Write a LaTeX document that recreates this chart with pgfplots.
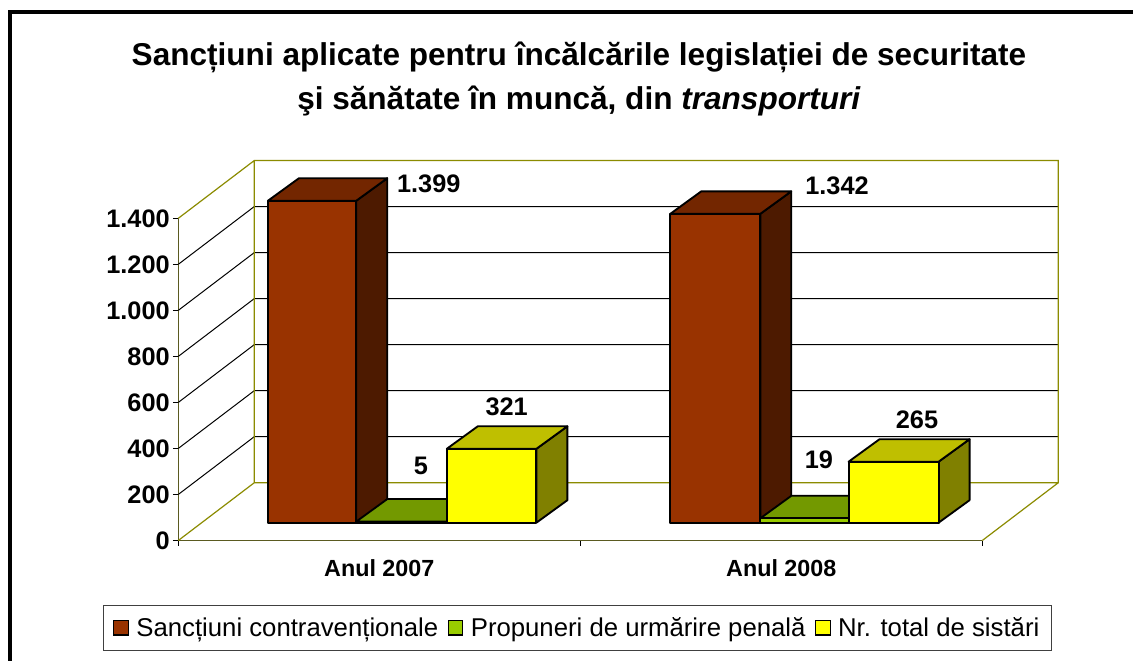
\documentclass[border=0pt]{standalone}
\usepackage{pgfplots}
\pgfplotsset{compat=1.18}
\usepackage{fontspec}
\setmainfont{Liberation Sans}

\definecolor{wall}{HTML}{8B8B00}
\definecolor{axisdark}{HTML}{5A5A20}
\definecolor{redF}{HTML}{993300}
\definecolor{redT}{HTML}{732600}
\definecolor{redS}{HTML}{4D1A00}
\definecolor{greenF}{HTML}{99CC00}
\definecolor{greenT}{HTML}{739900}
\definecolor{greenS}{HTML}{4D6600}
\definecolor{yelF}{HTML}{FFFF00}
\definecolor{yelT}{HTML}{BFBF00}
\definecolor{yelS}{HTML}{808000}

% one 3D bar: left, right, value, front/top/side colours
% base sits 77.4 units above the front floor line, depth is 0.0771 x 97.8 units
\newcommand{\threedbar}[6]{%
  \pgfmathsetmacro{\xa}{#1}\pgfmathsetmacro{\xb}{#2}%
  \pgfmathsetmacro{\xc}{#2+0.0771}\pgfmathsetmacro{\xd}{#1+0.0771}%
  \pgfmathsetmacro{\yb}{77.4}\pgfmathsetmacro{\yt}{77.4+#3}%
  \pgfmathsetmacro{\ybb}{77.4+97.8}\pgfmathsetmacro{\ytb}{77.4+97.8+#3}%
  \addplot[forget plot,fill=#6,draw=black,line width=1.4pt,line join=round]
    coordinates {(\xb,\yb) (\xc,\ybb) (\xc,\ytb) (\xb,\yt)} --cycle;
  \addplot[forget plot,fill=#5,draw=black,line width=1.4pt,line join=round]
    coordinates {(\xa,\yt) (\xb,\yt) (\xc,\ytb) (\xd,\ytb)} --cycle;
  \addplot[forget plot,fill=#4,draw=black,line width=1.4pt,line join=round]
    coordinates {(\xa,\yb) (\xb,\yb) (\xb,\yt) (\xa,\yt)} --cycle;
}
\pgfplotsset{
  swatch/.style={legend image code/.code={
    \path[draw=none,fill=none] (0pt,0pt) -- (15pt,0pt);
    \draw[##1,line width=0.9pt] (0pt,-5.5pt) rectangle (11pt,5.5pt);}},
}

\begin{document}
\begin{tikzpicture}[x=0.75pt,y=0.75pt]
% page and frame, in reference pixels relative to the axis origin
\useasboundingbox (-178.3,-120.5) rectangle (954.7,540.5);
\draw[black,line width=3pt] (-168,-125) -- (-168,528) -- (960,528);
\begin{axis}[
    at={(0,0)}, anchor=origin,
    scale only axis, width=603pt, height=241.65pt,
    xmin=0, xmax=2, ymin=0, ymax=1400,
    clip=false,
    axis lines*=left,
    axis line style={draw=axisdark,line width=0.9pt,-},
    xtick={0,1,2}, xticklabels={},
    ytick={0,200,400,600,800,1000,1200,1400},
    extra x ticks={0.5,1.5},
    extra x tick labels={Anul 2007,Anul 2008},
    extra x tick style={major tick length=0pt,
      xticklabel style={yshift=-11pt}},
    tick style={black,line width=0.7pt},
    major tick length=4pt,
    tick align=outside,
    xticklabel style={font=\fontsize{17.5}{20}\selectfont\bfseries,anchor=north},
    yticklabel style={font=\fontsize{19}{22}\selectfont\bfseries,inner sep=2.2pt},
    /pgf/number format/assume math mode=true,
    /pgf/number format/1000 sep={.},
    unbounded coords=jump,
    legend columns=3,
    legend style={
      at={(0.4966,-0.2708)}, anchor=center,
      draw=black!75, line width=0.8pt, fill=white,
      font=\fontsize{19.3}{22}\selectfont,
      inner xsep=7pt, inner ysep=7pt,
      /tikz/every even column/.style={column sep=5pt},
      row sep=0pt,
      cells={anchor=west},
    },
    legend cell align=left,
]
% gridlines on the side and back walls
\addplot[forget plot,black,line width=0.75pt] coordinates {
  (0,200) (0.189,451) (2.189,451) (nan,nan)
  (0,400) (0.189,651) (2.189,651) (nan,nan)
  (0,600) (0.189,851) (2.189,851) (nan,nan)
  (0,800) (0.189,1051) (2.189,1051) (nan,nan)
  (0,1000) (0.189,1251) (2.189,1251) (nan,nan)
  (0,1200) (0.189,1451) (2.189,1451)};
% walls and floor outline
\addplot[forget plot,wall,line width=0.9pt] coordinates {
  (0,1400) (0.189,1651) (2.189,1651) (2.189,251) (0.189,251) (0.189,1651) (nan,nan)
  (0,0) (0.189,251) (nan,nan)
  (2,0) (2.189,251)};

% bars
\threedbar{0.2231}{0.4428}{1399}{redF}{redT}{redS}
\threedbar{0.4428}{0.6679}{5}{greenF}{greenT}{greenS}
\threedbar{0.6679}{0.8908}{321}{yelF}{yelT}{yelS}
\threedbar{1.2239}{1.4478}{1342}{redF}{redT}{redS}
\threedbar{1.4478}{1.6674}{19}{greenF}{greenT}{greenS}
\threedbar{1.6674}{1.8913}{265}{yelF}{yelT}{yelS}

% value labels
\begin{scope}[every node/.style={font=\fontsize{19}{22}\selectfont\bfseries,inner sep=0pt}]
\node at (axis cs:0.6231,1550) {1.399};
\node at (axis cs:0.6037,323) {5};
\node at (axis cs:0.8168,580) {321};
\node at (axis cs:1.6386,1542) {1.342};
\node at (axis cs:1.5936,350) {19};
\node at (axis cs:1.8375,524) {265};
\end{scope}

% title
\node[font=\fontsize{23.67}{32.5}\selectfont\bfseries,align=center,anchor=center]
  at (axis cs:0.9968,2005)
  {Sancțiuni aplicate pentru încălcările legislației de securitate\\
   şi sănătate în muncă, din \textit{transporturi}};

% legend keys
\addlegendimage{swatch,fill=redF,draw=black}
\addlegendentry{\vphantom{ăț}Sancțiuni contravenționale}
\addlegendimage{swatch,fill=greenF,draw=black}
\addlegendentry{\vphantom{ăț}Propuneri de urmărire penală}
\addlegendimage{swatch,fill=yelF,draw=black}
\addlegendentry{\vphantom{ăț}Nr. total de sistări}
\end{axis}
\end{tikzpicture}
\end{document}
